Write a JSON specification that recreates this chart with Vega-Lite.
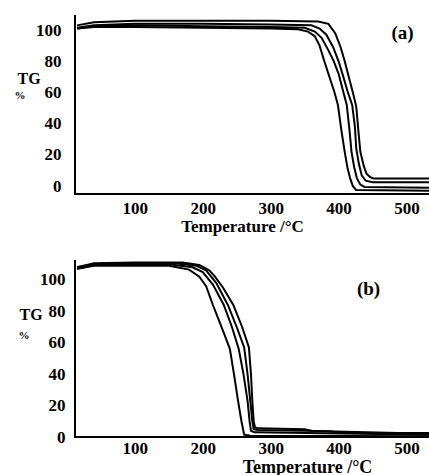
{
  "$schema": "https://vega.github.io/schema/vega-lite/v6.json",
  "padding": {"left": 14, "top": 12, "right": 0, "bottom": 0},
  "spacing": 23,
  "background": "white",
  "config": {
    "font": "Liberation Serif",
    "view": {"stroke": null},
    "axis": {
      "grid": false,
      "ticks": false,
      "labelColor": "black",
      "titleColor": "black",
      "labelFont": "Liberation Serif",
      "titleFont": "Liberation Serif",
      "labelFontWeight": "bold",
      "titleFontWeight": "bold",
      "labelFontSize": 17,
      "labelOverlap": false
    }
  },
  "datasets": {
    "notes": [
      {"panel": "a", "label": "(a)", "T": 494, "v": 98, "kind": "tag"},
      {"panel": "a", "label": "%", "T": -69, "v": 58, "kind": "unit"},
      {"panel": "b", "label": "(b)", "T": 444, "v": 94, "kind": "tag"},
      {"panel": "b", "label": "%", "T": -63, "v": 64, "kind": "unit"}
    ],
    "frame": [
      {"panel": "a", "i": 0, "T": 12, "v": 109},
      {"panel": "a", "i": 1, "T": 12, "v": -5},
      {"panel": "a", "i": 2, "T": 536, "v": -5},
      {"panel": "b", "i": 0, "T": 12, "v": 112},
      {"panel": "b", "i": 1, "T": 12, "v": 0},
      {"panel": "b", "i": 2, "T": 536, "v": 0}
    ],
    "tg": [
      {"panel": "a", "curve": "A", "T": 15, "v": 101},
      {"panel": "a", "curve": "A", "T": 40, "v": 102},
      {"panel": "a", "curve": "A", "T": 100, "v": 102},
      {"panel": "a", "curve": "A", "T": 200, "v": 101.5},
      {"panel": "a", "curve": "A", "T": 300, "v": 101},
      {"panel": "a", "curve": "A", "T": 340, "v": 100.5},
      {"panel": "a", "curve": "A", "T": 355, "v": 99},
      {"panel": "a", "curve": "A", "T": 365, "v": 96},
      {"panel": "a", "curve": "A", "T": 372, "v": 90},
      {"panel": "a", "curve": "A", "T": 379, "v": 80},
      {"panel": "a", "curve": "A", "T": 388, "v": 68},
      {"panel": "a", "curve": "A", "T": 394, "v": 60},
      {"panel": "a", "curve": "A", "T": 399, "v": 52},
      {"panel": "a", "curve": "A", "T": 404, "v": 36},
      {"panel": "a", "curve": "A", "T": 409, "v": 22},
      {"panel": "a", "curve": "A", "T": 413, "v": 12},
      {"panel": "a", "curve": "A", "T": 417, "v": 5},
      {"panel": "a", "curve": "A", "T": 421, "v": 0},
      {"panel": "a", "curve": "A", "T": 426, "v": -2.5},
      {"panel": "a", "curve": "A", "T": 535, "v": -3},

      {"panel": "a", "curve": "B", "T": 15, "v": 101},
      {"panel": "a", "curve": "B", "T": 40, "v": 102.5},
      {"panel": "a", "curve": "B", "T": 100, "v": 103},
      {"panel": "a", "curve": "B", "T": 200, "v": 102.5},
      {"panel": "a", "curve": "B", "T": 300, "v": 102},
      {"panel": "a", "curve": "B", "T": 350, "v": 101.5},
      {"panel": "a", "curve": "B", "T": 365, "v": 99},
      {"panel": "a", "curve": "B", "T": 375, "v": 95},
      {"panel": "a", "curve": "B", "T": 385, "v": 87},
      {"panel": "a", "curve": "B", "T": 393, "v": 80},
      {"panel": "a", "curve": "B", "T": 400, "v": 72},
      {"panel": "a", "curve": "B", "T": 406, "v": 62},
      {"panel": "a", "curve": "B", "T": 412, "v": 52},
      {"panel": "a", "curve": "B", "T": 416, "v": 36},
      {"panel": "a", "curve": "B", "T": 419, "v": 22},
      {"panel": "a", "curve": "B", "T": 423, "v": 12},
      {"panel": "a", "curve": "B", "T": 427, "v": 5},
      {"panel": "a", "curve": "B", "T": 432, "v": 1},
      {"panel": "a", "curve": "B", "T": 438, "v": -0.5},
      {"panel": "a", "curve": "B", "T": 535, "v": -1},

      {"panel": "a", "curve": "C", "T": 15, "v": 101.5},
      {"panel": "a", "curve": "C", "T": 40, "v": 103},
      {"panel": "a", "curve": "C", "T": 100, "v": 104},
      {"panel": "a", "curve": "C", "T": 200, "v": 104},
      {"panel": "a", "curve": "C", "T": 300, "v": 103.5},
      {"panel": "a", "curve": "C", "T": 360, "v": 103},
      {"panel": "a", "curve": "C", "T": 372, "v": 101},
      {"panel": "a", "curve": "C", "T": 382, "v": 97},
      {"panel": "a", "curve": "C", "T": 392, "v": 89},
      {"panel": "a", "curve": "C", "T": 400, "v": 80},
      {"panel": "a", "curve": "C", "T": 407, "v": 70},
      {"panel": "a", "curve": "C", "T": 413, "v": 61},
      {"panel": "a", "curve": "C", "T": 420, "v": 52},
      {"panel": "a", "curve": "C", "T": 424, "v": 38},
      {"panel": "a", "curve": "C", "T": 426, "v": 24},
      {"panel": "a", "curve": "C", "T": 430, "v": 14},
      {"panel": "a", "curve": "C", "T": 434, "v": 7},
      {"panel": "a", "curve": "C", "T": 440, "v": 3.5},
      {"panel": "a", "curve": "C", "T": 450, "v": 2.5},
      {"panel": "a", "curve": "C", "T": 535, "v": 2.5},

      {"panel": "a", "curve": "D", "T": 15, "v": 103},
      {"panel": "a", "curve": "D", "T": 40, "v": 105},
      {"panel": "a", "curve": "D", "T": 100, "v": 106},
      {"panel": "a", "curve": "D", "T": 200, "v": 106},
      {"panel": "a", "curve": "D", "T": 300, "v": 106},
      {"panel": "a", "curve": "D", "T": 370, "v": 105.5},
      {"panel": "a", "curve": "D", "T": 385, "v": 104},
      {"panel": "a", "curve": "D", "T": 395, "v": 98},
      {"panel": "a", "curve": "D", "T": 403, "v": 89},
      {"panel": "a", "curve": "D", "T": 409, "v": 80},
      {"panel": "a", "curve": "D", "T": 415, "v": 70},
      {"panel": "a", "curve": "D", "T": 421, "v": 60},
      {"panel": "a", "curve": "D", "T": 426, "v": 51},
      {"panel": "a", "curve": "D", "T": 429, "v": 36},
      {"panel": "a", "curve": "D", "T": 432, "v": 22},
      {"panel": "a", "curve": "D", "T": 437, "v": 13},
      {"panel": "a", "curve": "D", "T": 441, "v": 8},
      {"panel": "a", "curve": "D", "T": 446, "v": 6},
      {"panel": "a", "curve": "D", "T": 451, "v": 5},
      {"panel": "a", "curve": "D", "T": 535, "v": 5},

      {"panel": "b", "curve": "A", "T": 15, "v": 107},
      {"panel": "b", "curve": "A", "T": 40, "v": 109},
      {"panel": "b", "curve": "A", "T": 100, "v": 109},
      {"panel": "b", "curve": "A", "T": 150, "v": 109},
      {"panel": "b", "curve": "A", "T": 180, "v": 106.5},
      {"panel": "b", "curve": "A", "T": 195, "v": 102},
      {"panel": "b", "curve": "A", "T": 205, "v": 96},
      {"panel": "b", "curve": "A", "T": 215, "v": 84},
      {"panel": "b", "curve": "A", "T": 225, "v": 73},
      {"panel": "b", "curve": "A", "T": 233, "v": 64},
      {"panel": "b", "curve": "A", "T": 240, "v": 56},
      {"panel": "b", "curve": "A", "T": 246, "v": 40},
      {"panel": "b", "curve": "A", "T": 252, "v": 23},
      {"panel": "b", "curve": "A", "T": 257, "v": 10},
      {"panel": "b", "curve": "A", "T": 261, "v": 1.5},
      {"panel": "b", "curve": "A", "T": 270, "v": 0.8},
      {"panel": "b", "curve": "A", "T": 535, "v": 0.5},

      {"panel": "b", "curve": "B", "T": 15, "v": 107},
      {"panel": "b", "curve": "B", "T": 40, "v": 109.5},
      {"panel": "b", "curve": "B", "T": 100, "v": 110},
      {"panel": "b", "curve": "B", "T": 150, "v": 110},
      {"panel": "b", "curve": "B", "T": 185, "v": 108},
      {"panel": "b", "curve": "B", "T": 200, "v": 105},
      {"panel": "b", "curve": "B", "T": 215, "v": 97},
      {"panel": "b", "curve": "B", "T": 231, "v": 84},
      {"panel": "b", "curve": "B", "T": 243, "v": 70},
      {"panel": "b", "curve": "B", "T": 253, "v": 56},
      {"panel": "b", "curve": "B", "T": 260, "v": 40},
      {"panel": "b", "curve": "B", "T": 266, "v": 23},
      {"panel": "b", "curve": "B", "T": 269, "v": 10},
      {"panel": "b", "curve": "B", "T": 271, "v": 4},
      {"panel": "b", "curve": "B", "T": 276, "v": 3},
      {"panel": "b", "curve": "B", "T": 535, "v": 1.5},

      {"panel": "b", "curve": "C", "T": 15, "v": 108},
      {"panel": "b", "curve": "C", "T": 40, "v": 110},
      {"panel": "b", "curve": "C", "T": 100, "v": 110.5},
      {"panel": "b", "curve": "C", "T": 160, "v": 110.5},
      {"panel": "b", "curve": "C", "T": 190, "v": 109},
      {"panel": "b", "curve": "C", "T": 205, "v": 106},
      {"panel": "b", "curve": "C", "T": 220, "v": 98},
      {"panel": "b", "curve": "C", "T": 237, "v": 84},
      {"panel": "b", "curve": "C", "T": 250, "v": 70},
      {"panel": "b", "curve": "C", "T": 261, "v": 57},
      {"panel": "b", "curve": "C", "T": 266, "v": 40},
      {"panel": "b", "curve": "C", "T": 270, "v": 23},
      {"panel": "b", "curve": "C", "T": 273, "v": 10},
      {"panel": "b", "curve": "C", "T": 275, "v": 5},
      {"panel": "b", "curve": "C", "T": 280, "v": 4.5},
      {"panel": "b", "curve": "C", "T": 350, "v": 4},
      {"panel": "b", "curve": "C", "T": 535, "v": 2},

      {"panel": "b", "curve": "D", "T": 15, "v": 108},
      {"panel": "b", "curve": "D", "T": 40, "v": 110.5},
      {"panel": "b", "curve": "D", "T": 100, "v": 111},
      {"panel": "b", "curve": "D", "T": 170, "v": 111},
      {"panel": "b", "curve": "D", "T": 195, "v": 109.5},
      {"panel": "b", "curve": "D", "T": 210, "v": 106},
      {"panel": "b", "curve": "D", "T": 218, "v": 102},
      {"panel": "b", "curve": "D", "T": 230, "v": 95},
      {"panel": "b", "curve": "D", "T": 245, "v": 84},
      {"panel": "b", "curve": "D", "T": 258, "v": 70},
      {"panel": "b", "curve": "D", "T": 268, "v": 57},
      {"panel": "b", "curve": "D", "T": 271, "v": 40},
      {"panel": "b", "curve": "D", "T": 273, "v": 23},
      {"panel": "b", "curve": "D", "T": 275, "v": 10},
      {"panel": "b", "curve": "D", "T": 277, "v": 6},
      {"panel": "b", "curve": "D", "T": 282, "v": 5.5},
      {"panel": "b", "curve": "D", "T": 350, "v": 5},
      {"panel": "b", "curve": "D", "T": 360, "v": 4},
      {"panel": "b", "curve": "D", "T": 390, "v": 3.5},
      {"panel": "b", "curve": "D", "T": 400, "v": 2.5},
      {"panel": "b", "curve": "D", "T": 535, "v": 2.5}
    ]
  },
  "vconcat": [
    {
      "width": 356,
      "height": 178,
      "encoding": {
        "x": {
          "field": "T", "type": "quantitative",
          "scale": {"domain": [12, 536], "nice": false, "zero": false},
          "axis": {
            "domain": false,
            "grid": false,
            "ticks": false,
            "labelOverlap": false,
            "labelFont": "Liberation Serif",
            "labelFontWeight": "bold",
            "labelFontSize": 17,
            "labelColor": "black",
            "values": [100, 200, 300, 400, 500],
            "labelPadding": 6,
            "title": "Temperature /°C",
            "titleFont": "Liberation Serif",
            "titleFontWeight": "bold",
            "titleColor": "black",
            "titleFontSize": 17,
            "titleX": 167, "titleY": 32,
            "titleAlign": "center", "titleBaseline": "middle"
          }
        },
        "y": {
          "field": "v", "type": "quantitative",
          "scale": {"domain": [-5, 109], "nice": false, "zero": false},
          "axis": {
            "domain": false,
            "grid": false,
            "ticks": false,
            "labelOverlap": false,
            "labelFont": "Liberation Serif",
            "labelFontWeight": "bold",
            "labelFontSize": 17,
            "labelColor": "black",
            "values": [0, 20, 40, 60, 80, 100],
            "labelPadding": 14,
            "title": "TG",
            "titleFont": "Liberation Serif",
            "titleFontWeight": "bold",
            "titleColor": "black",
            "titleFontSize": 16,
            "titleAngle": 0,
            "titleX": -58, "titleY": 62,
            "titleAlign": "left", "titleBaseline": "middle"
          }
        }
      },
      "layer": [
        {
          "data": {"name": "frame"},
          "transform": [{"filter": "datum.panel == 'a'"}],
          "mark": {"type": "line", "color": "black", "strokeWidth": 2, "clip": false, "strokeCap": "square"},
          "encoding": {
            "order": {"field": "i", "type": "quantitative"}
          }
        },
        {
          "data": {"name": "tg"},
          "transform": [{"filter": "datum.panel == 'a'"}],
          "mark": {"type": "line", "color": "black", "clip": true},
          "encoding": {
            "detail": {"field": "curve"},
            "strokeWidth": {"field": "curve", "type": "nominal", "scale": {"domain": ["A", "B", "C", "D"], "range": [2, 2, 2, 3]}, "legend": null}
          }
        },
        {
          "data": {"name": "notes"},
          "transform": [{"filter": "datum.panel == 'a'"}],
          "mark": {"type": "text", "font": "Liberation Serif", "fontWeight": "bold", "color": "black"},
          "encoding": {
            "text": {"field": "label"},
            "size": {"field": "kind", "type": "nominal", "scale": {"domain": ["tag", "unit"], "range": [19, 11]}, "legend": null}
          }
        }
      ]
    },
    {
      "width": 356,
      "height": 176,
      "encoding": {
        "x": {
          "field": "T", "type": "quantitative",
          "scale": {"domain": [12, 536], "nice": false, "zero": false},
          "axis": {
            "domain": false,
            "grid": false,
            "ticks": false,
            "labelOverlap": false,
            "labelFont": "Liberation Serif",
            "labelFontWeight": "bold",
            "labelFontSize": 17,
            "labelColor": "black",
            "values": [100, 200, 300, 400, 500],
            "labelPadding": 3,
            "title": "Temperature /°C",
            "titleFont": "Liberation Serif",
            "titleFontWeight": "bold",
            "titleColor": "black",
            "titleFontSize": 18,
            "titleX": 232, "titleY": 30,
            "titleAlign": "center", "titleBaseline": "middle"
          }
        },
        "y": {
          "field": "v", "type": "quantitative",
          "scale": {"domain": [0, 112], "nice": false, "zero": false},
          "axis": {
            "domain": false,
            "grid": false,
            "ticks": false,
            "labelOverlap": false,
            "labelFont": "Liberation Serif",
            "labelFontWeight": "bold",
            "labelFontSize": 17,
            "labelColor": "black",
            "values": [0, 20, 40, 60, 80, 100],
            "labelPadding": 10,
            "title": "TG",
            "titleFont": "Liberation Serif",
            "titleFontWeight": "bold",
            "titleColor": "black",
            "titleFontSize": 16,
            "titleAngle": 0,
            "titleX": -56, "titleY": 53,
            "titleAlign": "left", "titleBaseline": "middle"
          }
        }
      },
      "layer": [
        {
          "data": {"name": "frame"},
          "transform": [{"filter": "datum.panel == 'b'"}],
          "mark": {"type": "line", "color": "black", "strokeWidth": 2, "clip": false, "strokeCap": "square"},
          "encoding": {
            "order": {"field": "i", "type": "quantitative"}
          }
        },
        {
          "data": {"name": "tg"},
          "transform": [{"filter": "datum.panel == 'b'"}],
          "mark": {"type": "line", "color": "black", "clip": true},
          "encoding": {
            "detail": {"field": "curve"},
            "strokeWidth": {"field": "curve", "type": "nominal", "scale": {"domain": ["A", "B", "C", "D"], "range": [2, 2, 2, 3]}, "legend": null}
          }
        },
        {
          "data": {"name": "notes"},
          "transform": [{"filter": "datum.panel == 'b'"}],
          "mark": {"type": "text", "font": "Liberation Serif", "fontWeight": "bold", "color": "black"},
          "encoding": {
            "text": {"field": "label"},
            "size": {"field": "kind", "type": "nominal", "scale": {"domain": ["tag", "unit"], "range": [20, 11]}, "legend": null}
          }
        }
      ]
    }
  ]
}
